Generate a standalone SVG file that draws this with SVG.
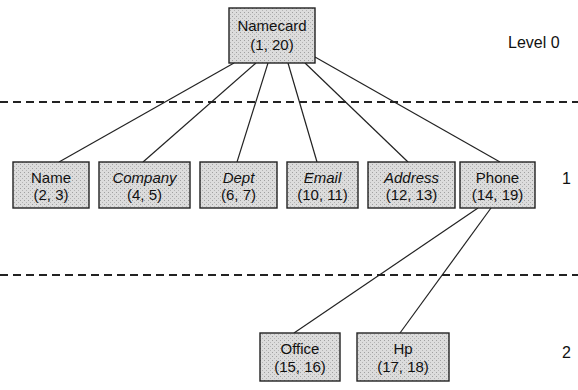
<svg xmlns="http://www.w3.org/2000/svg" width="578" height="390" viewBox="0 0 578 390">
<defs>
<pattern id="stip" width="4" height="4" patternUnits="userSpaceOnUse">
<rect width="4" height="4" fill="#dcdcdc"/>
<rect x="0" y="0" width="1" height="1" fill="#a0a0a0"/>
<rect x="2" y="2" width="1" height="1" fill="#b4b4b4"/>
</pattern>
</defs>
<style>
.box{fill:url(#stip);stroke:#222;stroke-width:1.4}
.t{font-family:"Liberation Sans",Arial,sans-serif;font-size:15px;fill:#111;text-anchor:middle}
.i{font-style:italic}
.lv{font-family:"Liberation Sans",Arial,sans-serif;font-size:16px;fill:#111}
.ln{stroke:#222;stroke-width:1.2;fill:none}
.dash{stroke:#222;stroke-width:2;stroke-dasharray:8 5;fill:none}
</style>
<g id="guides">
<line class="dash" x1="0" y1="102" x2="578" y2="102"/>
<line class="dash" x1="0" y1="275" x2="578" y2="275"/>
<text class="lv" x="508" y="48">Level 0</text>
<text class="lv" x="562" y="184">1</text>
<text class="lv" x="562" y="358">2</text>
</g>
<g id="connectors">
<line class="ln" x1="234" y1="63" x2="59" y2="162"/>
<line class="ln" x1="256" y1="63" x2="143" y2="162"/>
<line class="ln" x1="268" y1="63" x2="237" y2="162"/>
<line class="ln" x1="288" y1="63" x2="317" y2="162"/>
<line class="ln" x1="305" y1="63" x2="408" y2="162"/>
<line class="ln" x1="315" y1="57" x2="500" y2="162"/>
<line class="ln" x1="478" y1="208" x2="294" y2="333"/>
<line class="ln" x1="491" y1="208" x2="400" y2="333"/>
</g>
<g id="namecard"><rect class="box" x="229" y="8" width="86" height="55"/><text class="t" x="272" y="31">Namecard</text><text class="t" x="272" y="50">(1, 20)</text></g>
<g id="name"><rect class="box" x="13" y="162" width="76" height="46"/><text class="t" x="51" y="183">Name</text><text class="t" x="51" y="200">(2, 3)</text></g>
<g id="company"><rect class="box" x="99" y="162" width="91" height="46"/><text class="t i" x="144.5" y="183">Company</text><text class="t" x="144.5" y="200">(4, 5)</text></g>
<g id="dept"><rect class="box" x="200" y="162" width="77" height="46"/><text class="t i" x="238.5" y="183">Dept</text><text class="t" x="238.5" y="200">(6, 7)</text></g>
<g id="email"><rect class="box" x="287" y="162" width="71" height="46"/><text class="t i" x="322.5" y="183">Email</text><text class="t" x="322.5" y="200">(10, 11)</text></g>
<g id="address"><rect class="box" x="368" y="162" width="87" height="46"/><text class="t i" x="411.5" y="183">Address</text><text class="t" x="411.5" y="200">(12, 13)</text></g>
<g id="phone"><rect class="box" x="460" y="162" width="75" height="46"/><text class="t" x="497.5" y="183">Phone</text><text class="t" x="497.5" y="200">(14, 19)</text></g>
<g id="office"><rect class="box" x="260" y="333" width="80" height="48"/><text class="t" x="300" y="354">Office</text><text class="t" x="300" y="372">(15, 16)</text></g>
<g id="hp"><rect class="box" x="357" y="333" width="92" height="48"/><text class="t" x="403" y="354">Hp</text><text class="t" x="403" y="372">(17, 18)</text></g>
</svg>
